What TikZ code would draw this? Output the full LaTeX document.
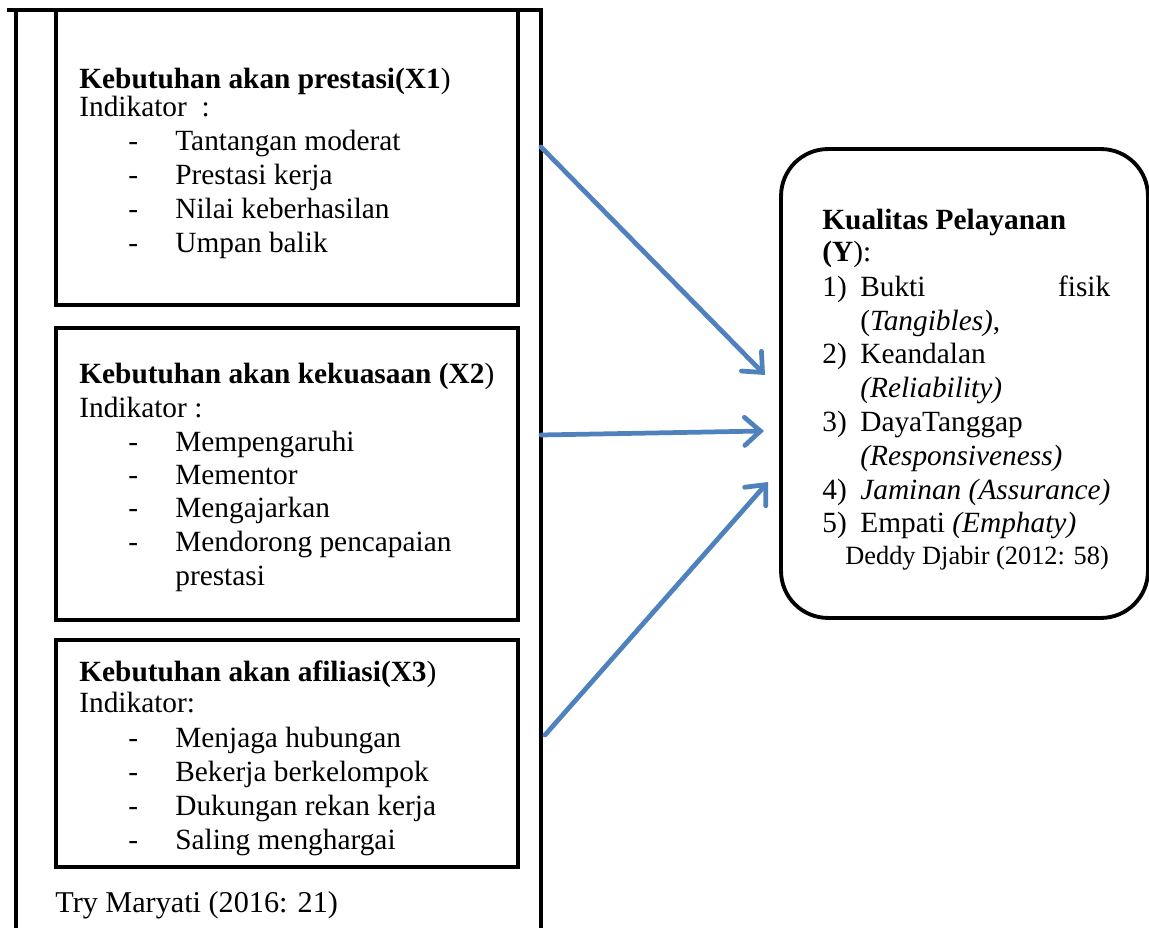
\documentclass[tikz,border=0pt]{standalone}
\usepackage{fontspec}
\setmainfont{Liberation Serif}
\usepackage{xcolor}
\usetikzlibrary{arrows.meta,positioning}

\definecolor{linkblue}{HTML}{4F81BD}

\tikzset{
  box/.style = {draw, line width=2.2pt, inner sep=0pt},
  line/.style = {anchor=base west, inner sep=0pt},
  item/.style = {line, execute at begin node={\makebox[0.94cm][l]{-}}},
  link/.style = {draw=linkblue, line width=2.7pt, line cap=round,
                 -{Straight Barb[length=9pt,width=16pt,line cap=round]}},
}

\begin{document}
\begin{tikzpicture}[x=0.02cm, y=-0.02cm, font=\fontsize{16.7}{20}\selectfont]
    \useasboundingbox (0,0) rectangle (1149,928);
    % outer frame, open at the bottom
    \draw[line width=2.2pt] (7,10) -- (543,10);
    \draw[line width=2.2pt] (16,10) -- (16,935);
    \draw[line width=2.2pt] (541,10) -- (541,935);

    % the three need boxes
    \node[box, minimum width=9.24cm, minimum height=5.9cm] (x1) at (287,157.5) {};
    \node[box, minimum width=9.24cm, minimum height=5.84cm] (x2) at (287,474) {};
    \node[box, minimum width=9.24cm, minimum height=4.54cm] (x3) at (287,753.5) {};

    \node[line] (x1-t) at (79,89) {\textbf{Kebutuhan akan prestasi(X1})};
    \node[line] (x1-i) at (79,117) {Indikator~~:};
    \foreach \t [count=\i] in {Tantangan moderat, Prestasi kerja, Nilai keberhasilan, Umpan balik}
        \node[item] (x1-\i) at (128,{117+33.8*\i}) {\t};

    \node[line] (x2-t) at (79,384) {\textbf{Kebutuhan akan kekuasaan (X2})};
    \node[line] (x2-i) at (79,418) {Indikator :};
    \foreach \t [count=\i] in {Mempengaruhi, Mementor, Mengajarkan, Mendorong pencapaian}
        \node[item] (x2-\i) at (128,{418+33.3*\i}) {\t};
    \node[line] (x2-5) at (175,585) {prestasi};

    \node[line] (x3-t) at (79,681) {\textbf{Kebutuhan akan afiliasi(X3})};
    \node[line] (x3-i) at (79,712) {Indikator:};
    \foreach \t [count=\i] in {Menjaga hubungan, Bekerja berkelompok, Dukungan rekan kerja, Saling menghargai}
        \node[item] (x3-\i) at (128,{713+34*\i}) {\t};

    \node[line, font=\fontsize{17.2}{20}\selectfont] (src-x) at (55,912) {Try Maryati (2016: 21)};

    % service quality box
    \node[box, rounded corners=0.94cm, minimum width=7.34cm, minimum height=9.38cm] (yk) at (964.5,383.5) {};
    \node[line] (y-t) at (822,230) {\textbf{Kualitas Pelayanan}};
    \node[line] (y-t2) at (822,262) {\textbf{(Y}):};
    \node[line] (y-1) at (822,297) {\makebox[0.76cm][l]{1)}\makebox[5cm][s]{Bukti fisik}};
    \node[line] (y-1b) at (860,331) {(\textit{Tangibles)},};
    \node[line] (y-2) at (822,364) {\makebox[0.76cm][l]{2)}Keandalan};
    \node[line] (y-2b) at (860,398) {\textit{(Reliability)}};
    \node[line] (y-3) at (822,432) {\makebox[0.76cm][l]{3)}DayaTanggap};
    \node[line] (y-3b) at (860,466) {\textit{(Responsiveness)}};
    \node[line] (y-4) at (822,500) {\makebox[0.76cm][l]{4)}\textit{Jaminan (Assurance)}};
    \node[line] (y-5) at (822,533) {\makebox[0.76cm][l]{5)}Empati \textit{(Emphaty)}};
    \node[line, font=\fontsize{15}{18}\selectfont] (src-y) at (845,565) {Deddy Djabir (2012: 58)};

    % arrows into Y
    \coordinate (s1) at (541,147);
    \coordinate (s2) at (541,435);
    \coordinate (s3) at (545,735);
    \coordinate (t1) at (765,375);
    \coordinate (t2) at (764,431);
    \coordinate (t3) at (768,482);
    \draw[link] (s1) -- (t1);
    \draw[link] (s2) -- (t2);
    \draw[link] (s3) -- (t3);
\end{tikzpicture}
\end{document}
